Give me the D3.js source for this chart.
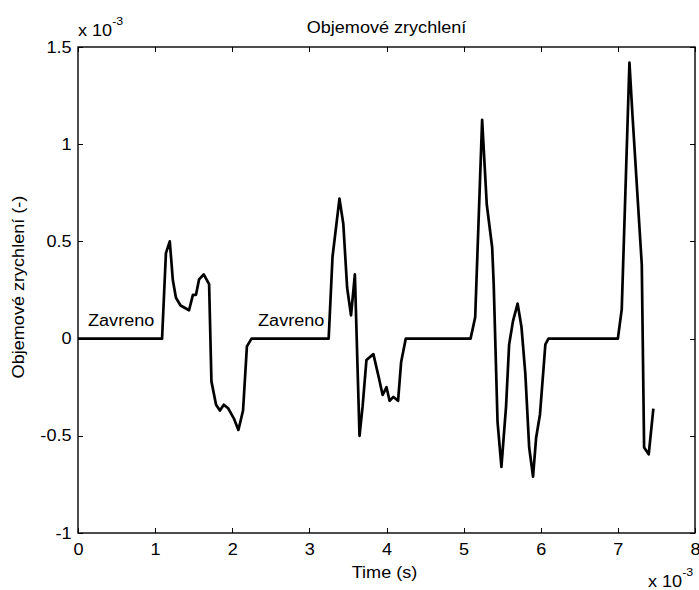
<!DOCTYPE html>
<html lang="cs">
<head>
<meta charset="UTF-8">
<title>Objemové zrychlení</title>
<script src="https://d3js.org/d3.v7.min.js"></script>
<style>
  body { margin: 0; background: #fff; }
  svg text { font-family: "Liberation Sans", Arial, sans-serif; fill: #000; font-size: 16px; }
  .axis line { stroke: #000; shape-rendering: crispEdges; }
</style>
</head>
<body>
<script>
// time in ms (x 10^-3 s), acceleration in x 10^-3
const timeMs = [0, 1.09, 1.14, 1.19, 1.23, 1.27, 1.33, 1.44, 1.49, 1.53, 1.57, 1.63, 1.70, 1.73, 1.79, 1.84, 1.89, 1.95, 2.02, 2.08, 2.14, 2.19, 2.25,
  3.25, 3.30, 3.39, 3.44, 3.49, 3.54, 3.59, 3.65, 3.69, 3.74, 3.83, 3.90, 3.95, 4.00, 4.04, 4.09, 4.15, 4.19, 4.25,
  5.09, 5.15, 5.24, 5.30, 5.37, 5.39, 5.44, 5.49, 5.55, 5.59, 5.64, 5.70, 5.75, 5.80, 5.85, 5.90, 5.94, 5.99, 6.06, 6.10,
  7.00, 7.05, 7.15, 7.19, 7.31, 7.34, 7.40, 7.46];
const accel = [0, 0, 0.44, 0.50, 0.30, 0.21, 0.17, 0.146, 0.225, 0.225, 0.305, 0.33, 0.28, -0.22, -0.34, -0.37, -0.34, -0.36, -0.41, -0.47, -0.37, -0.04, 0,
  0, 0.42, 0.72, 0.59, 0.26, 0.12, 0.33, -0.50, -0.35, -0.11, -0.08, -0.20, -0.29, -0.25, -0.32, -0.30, -0.32, -0.12, 0,
  0, 0.11, 1.125, 0.69, 0.47, 0.28, -0.43, -0.66, -0.35, -0.03, 0.09, 0.18, 0.06, -0.18, -0.56, -0.71, -0.51, -0.39, -0.03, 0,
  0, 0.15, 1.42, 1.145, 0.38, -0.56, -0.595, -0.36];
const xTicks = [0, 1, 2, 3, 4, 5, 6, 7, 8];
const yTicks = [-1, -0.5, 0, 0.5, 1, 1.5];
const notes = [{t: 0.13, v: 0.065, text: "Zavreno"}, {t: 2.335, v: 0.065, text: "Zavreno"}];

const W = 699, H = 590;
const margin = {top: 47, right: 4, bottom: 57, left: 78};
const width = W - margin.left - margin.right;
const height = H - margin.top - margin.bottom;
const SX = 1.13; // the reference text is a bit wider than Arial

const svg = d3.select("body").append("svg")
  .attr("width", W).attr("height", H);
const g = svg.append("g").attr("transform", `translate(${margin.left},${margin.top})`);

const x = d3.scaleLinear().domain([0, 8]).range([0, width]);
const y = d3.scaleLinear().domain([-1, 1.5]).range([height, 0]);

// axes with inward ticks on all four sides
const fmt = d => String(d);
const xAx = g.append("g").attr("class", "axis").attr("transform", `translate(0,${height})`)
  .call(d3.axisBottom(x).tickValues(xTicks).tickFormat(fmt).tickSizeInner(-5).tickSizeOuter(0).tickPadding(11));
g.append("g").attr("class", "axis")
  .call(d3.axisTop(x).tickValues(xTicks).tickFormat("").tickSizeInner(-5).tickSizeOuter(0));
const yAx = g.append("g").attr("class", "axis")
  .call(d3.axisLeft(y).tickValues(yTicks).tickFormat(fmt).tickSizeInner(-5).tickSizeOuter(0).tickPadding(6.5));
g.append("g").attr("class", "axis").attr("transform", `translate(${width},0)`)
  .call(d3.axisRight(y).tickValues(yTicks).tickFormat("").tickSizeInner(-5).tickSizeOuter(0));
g.selectAll(".axis text").style("font-size", null).style("font-family", null).attr("font-size", null).attr("font-family", null);
g.selectAll(".axis").attr("font-size", null).attr("font-family", null);
xAx.selectAll("text").attr("transform", `scale(${SX},1)`);
yAx.selectAll("text").attr("transform", `scale(${SX},1)`).attr("x", -6.5 / SX);
g.selectAll(".axis path").remove();
g.append("rect").attr("width", width).attr("height", height)
  .attr("fill", "none").attr("stroke", "#000").attr("stroke-width", 1.4);

// data line
const pts = timeMs.map((t, i) => [t, accel[i]]);
g.append("path").datum(pts)
  .attr("fill", "none").attr("stroke", "#000").attr("stroke-width", 2.7)
  .attr("stroke-linejoin", "round")
  .attr("d", d3.line().x(d => x(d[0])).y(d => y(d[1])));

g.selectAll(".note").data(notes).enter().append("text")
  .attr("transform", d => `translate(${x(d.t)},${y(d.v)}) scale(${SX},1)`)
  .text(d => d.text);

// titles
function label(px, py, txt, rot) {
  return svg.append("text")
    .attr("transform", `translate(${px},${py})` + (rot ? " rotate(-90)" : "") + (rot ? ` scale(${SX},1)` : ` scale(${SX},1)`))
    .attr("text-anchor", "middle").text(txt);
}
label(margin.left + width / 2, 33, "Objemové zrychlení");
label(margin.left + width / 2 - 2, 578, "Time (s)");
label(24, margin.top + height / 2 - 3, "Objemové zrychlení (-)", true);

// exponent labels
function expLabel(px, py) {
  const t = svg.append("text").attr("transform", `translate(${px},${py}) scale(${SX},1)`);
  t.append("tspan").text("x 10");
  t.append("tspan").attr("dy", -11).style("font-size", "11px").text("-3");
}
expLabel(78, 36);
expLabel(648, 587);
</script>
</body>
</html>
